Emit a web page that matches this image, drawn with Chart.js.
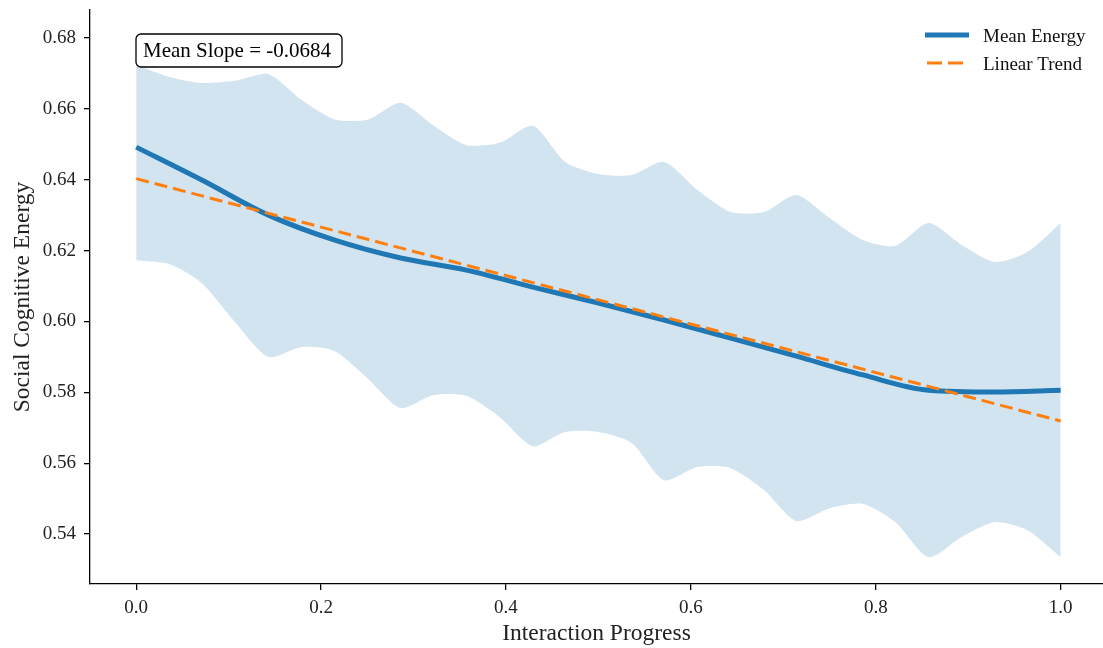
<!DOCTYPE html>
<html lang="en">
<head>
  <meta charset="UTF-8">
  <title>Social Cognitive Energy</title>
  <style>
    body {
      margin: 0;
      background-color: #ffffff;
      overflow: hidden;
    }
    #wrap {
      width: 1103px;
      height: 648px;
    }
  </style>
  <script src="https://cdn.jsdelivr.net/npm/chart.js"></script>
</head>
<body>
  <div id="wrap"><canvas id="energyChart"></canvas></div>

  <script>
    // band sample positions (interaction progress)
    const bandX = [0.000, 0.036, 0.071, 0.107, 0.143, 0.179, 0.214, 0.250, 0.286, 0.321,
                   0.357, 0.393, 0.429, 0.464, 0.500, 0.536, 0.571, 0.607, 0.643, 0.679,
                   0.714, 0.750, 0.786, 0.821, 0.857, 0.893, 0.929, 0.964, 1.000];
    const bandUpper = [0.6724, 0.6690, 0.6673, 0.6679, 0.6698, 0.6625, 0.6571, 0.6569, 0.6617, 0.6554,
                       0.6498, 0.6504, 0.6552, 0.6450, 0.6416, 0.6413, 0.6450, 0.6371, 0.6309, 0.6309,
                       0.6357, 0.6292, 0.6230, 0.6213, 0.6278, 0.6216, 0.6168, 0.6196, 0.6278];
    const bandLower = [0.6173, 0.6162, 0.6108, 0.5998, 0.5900, 0.5928, 0.5917, 0.5840, 0.5756, 0.5792,
                       0.5790, 0.5730, 0.5648, 0.5688, 0.5688, 0.5657, 0.5552, 0.5589, 0.5586, 0.5524,
                       0.5437, 0.5473, 0.5485, 0.5434, 0.5335, 0.5392, 0.5434, 0.5411, 0.5335];

    // mean energy curve
    const meanX = [0.000, 0.071, 0.143, 0.214, 0.286, 0.357, 0.429, 0.500, 0.571, 0.643,
                   0.714, 0.786, 0.857, 0.929, 1.000];
    const meanY = [0.6492, 0.6399, 0.6300, 0.6230, 0.6179, 0.6145, 0.6097, 0.6052, 0.6004, 0.5953,
                   0.5902, 0.5849, 0.5806, 0.5801, 0.5806];

    // linear trend end points
    const trendX = [0.0, 1.0];
    const trendY = [0.6403, 0.5719];

    const xTicks = [0.0, 0.2, 0.4, 0.6, 0.8, 1.0];
    const yTicks = [0.54, 0.56, 0.58, 0.60, 0.62, 0.64, 0.66, 0.68];
    const slopeText = 'Mean Slope = -0.0684';

    const serif = '"Liberation Serif", "Times New Roman", serif';
    const pts = (xa, ya) => xa.map((x, i) => ({ x: x, y: ya[i] }));

    // draws the slope box and the legend
    const decor = {
      id: 'decor',
      afterDraw(chart) {
        const ctx = chart.ctx;
        const area = chart.chartArea;
        ctx.save();

        // slope box
        const bx = area.left + 46, by = area.top + 24;
        ctx.beginPath();
        ctx.roundRect(bx, by, 206, 33, 5);
        ctx.fillStyle = '#ffffff';
        ctx.fill();
        ctx.lineWidth = 1.3;
        ctx.strokeStyle = '#000000';
        ctx.stroke();
        ctx.fillStyle = '#000000';
        ctx.font = '21px ' + serif;
        ctx.textBaseline = 'middle';
        ctx.textAlign = 'left';
        ctx.fillText(slopeText, bx + 7, by + 17);

        // legend
        const lx = 925, tx = 983;
        ctx.lineWidth = 5;
        ctx.strokeStyle = '#1f77b4';
        ctx.beginPath();
        ctx.moveTo(lx, 35);
        ctx.lineTo(lx + 44, 35);
        ctx.stroke();

        ctx.lineWidth = 3;
        ctx.strokeStyle = '#ff7f0e';
        ctx.setLineDash([15, 6]);
        ctx.beginPath();
        ctx.moveTo(lx + 2, 63);
        ctx.lineTo(lx + 38, 63);
        ctx.stroke();
        ctx.setLineDash([]);

        ctx.fillStyle = '#111111';
        ctx.font = '19px ' + serif;
        ctx.fillText(chart.data.datasets[1].label, tx, 37);
        ctx.fillText(chart.data.datasets[0].label, tx, 65);
        ctx.restore();
      }
    };

    const ctx = document.getElementById('energyChart').getContext('2d');
    new Chart(ctx, {
      type: 'line',
      data: {
        datasets: [
          {
            label: 'Linear Trend',
            data: pts(trendX, trendY),
            borderColor: '#ff7f0e',
            borderWidth: 3,
            borderDash: [13, 6],
            pointRadius: 0,
            fill: false,
            order: 0
          },
          {
            label: 'Mean Energy',
            data: pts(meanX, meanY),
            borderColor: '#1f77b4',
            borderWidth: 5,
            pointRadius: 0,
            cubicInterpolationMode: 'monotone',
            fill: false,
            order: 1
          },
          {
            label: 'upper',
            data: pts(bandX, bandUpper),
            borderWidth: 0,
            borderColor: 'rgba(0,0,0,0)',
            backgroundColor: 'rgba(31, 119, 180, 0.2)',
            pointRadius: 0,
            tension: 0.25,
            fill: '+1',
            order: 2
          },
          {
            label: 'lower',
            data: pts(bandX, bandLower),
            borderWidth: 0,
            borderColor: 'rgba(0,0,0,0)',
            pointRadius: 0,
            tension: 0.25,
            fill: false,
            order: 3
          }
        ]
      },
      options: {
        responsive: true,
        maintainAspectRatio: false,
        animation: false,
        layout: { padding: { top: 10, right: 0, left: 0, bottom: 0 } },
        plugins: {
          legend: { display: false },
          tooltip: { enabled: false }
        },
        scales: {
          x: {
            type: 'linear',
            min: -0.05,
            max: 1.0458,
            afterBuildTicks: s => { s.ticks = xTicks.map(v => ({ value: v })); },
            afterFit: s => {
              s.height = 64;
              s.paddingLeft = 0;
              s.paddingRight = 0;
            },
            ticks: {
              callback: v => v.toFixed(1),
              font: { family: serif, size: 19 },
              color: '#222222',
              padding: 7
            },
            grid: { drawOnChartArea: false, drawTicks: true, tickLength: 6, color: '#000000', lineWidth: 1.3 },
            border: { display: true, color: '#000000', width: 1.3 },
            title: {
              display: true,
              text: 'Interaction Progress',
              font: { family: serif, size: 23.5 },
              color: '#222222',
              padding: { top: 0, bottom: 0 }
            }
          },
          y: {
            type: 'linear',
            min: 0.5259,
            max: 0.6879,
            afterBuildTicks: s => { s.ticks = yTicks.map(v => ({ value: v })); },
            afterFit: s => {
              s.width = 90;
              s.paddingTop = 0;
              s.paddingBottom = 0;
            },
            ticks: {
              callback: v => v.toFixed(2),
              font: { family: serif, size: 19 },
              color: '#222222',
              padding: 8
            },
            grid: { drawOnChartArea: false, drawTicks: true, tickLength: 6, color: '#000000', lineWidth: 1.3 },
            border: { display: true, color: '#000000', width: 1.3 },
            title: {
              display: true,
              text: 'Social Cognitive Energy',
              font: { family: serif, size: 23.5 },
              color: '#222222',
              padding: { top: 9, bottom: 0 }
            }
          }
        }
      },
      plugins: [decor]
    });
  </script>
</body>
</html>
